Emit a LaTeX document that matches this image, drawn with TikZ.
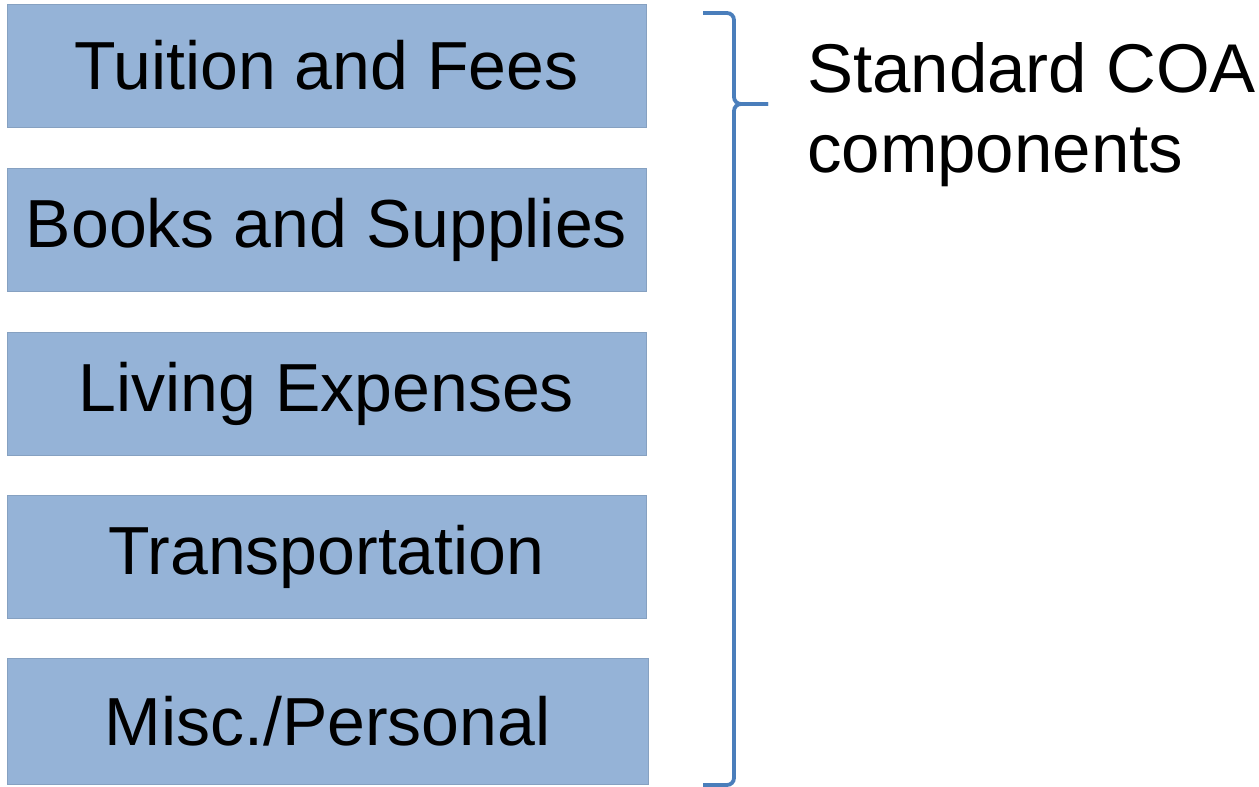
\documentclass[tikz,border=0pt]{standalone}
\usepackage{fontspec}
\setmainfont{Liberation Sans}
\usetikzlibrary{positioning}

\definecolor{boxblue}{HTML}{95B3D7}
\definecolor{braceblue}{HTML}{4A7EBB}

\begin{document}
\begin{tikzpicture}[x=1pt,y=1pt,node distance=40.5pt,
                    cost/.style={rectangle,fill=boxblue,draw=boxblue!90!black,line width=0.6pt,
                                 minimum width=639pt,minimum height=123pt,inner sep=0pt,
                                 font=\fontsize{68}{78}\selectfont},
                    brace/.style={draw=braceblue,line width=3.8pt,rounded corners=7pt}]
\useasboundingbox (0,0) rectangle (1259,-787);

\node[cost] (tuition) at (326.5,-65.5) {Tuition and Fees};
\node[cost] (books) [below=of tuition] {Books and Supplies};
\node[cost] (living) [below=of books] {Living Expenses};
\node[cost] (transport) [below=39.5pt of living] {Transportation};
\node[cost,minimum width=641pt,minimum height=126pt] (misc) [below=39.5pt of transport,xshift=1pt] {Misc./Personal};

% brace
\coordinate (tip) at (768,-104);
\draw[brace] (703,-13) -- (734,-13) -- (734,-104) -- (tip);
\draw[brace] (tip) -| (734,-785) -- (703,-785);

\node[anchor=north west,align=left,inner sep=0pt,font=\fontsize{69}{80}\selectfont] (coa)
  at (807,-42) {Standard COA\\components};
\end{tikzpicture}
\end{document}
